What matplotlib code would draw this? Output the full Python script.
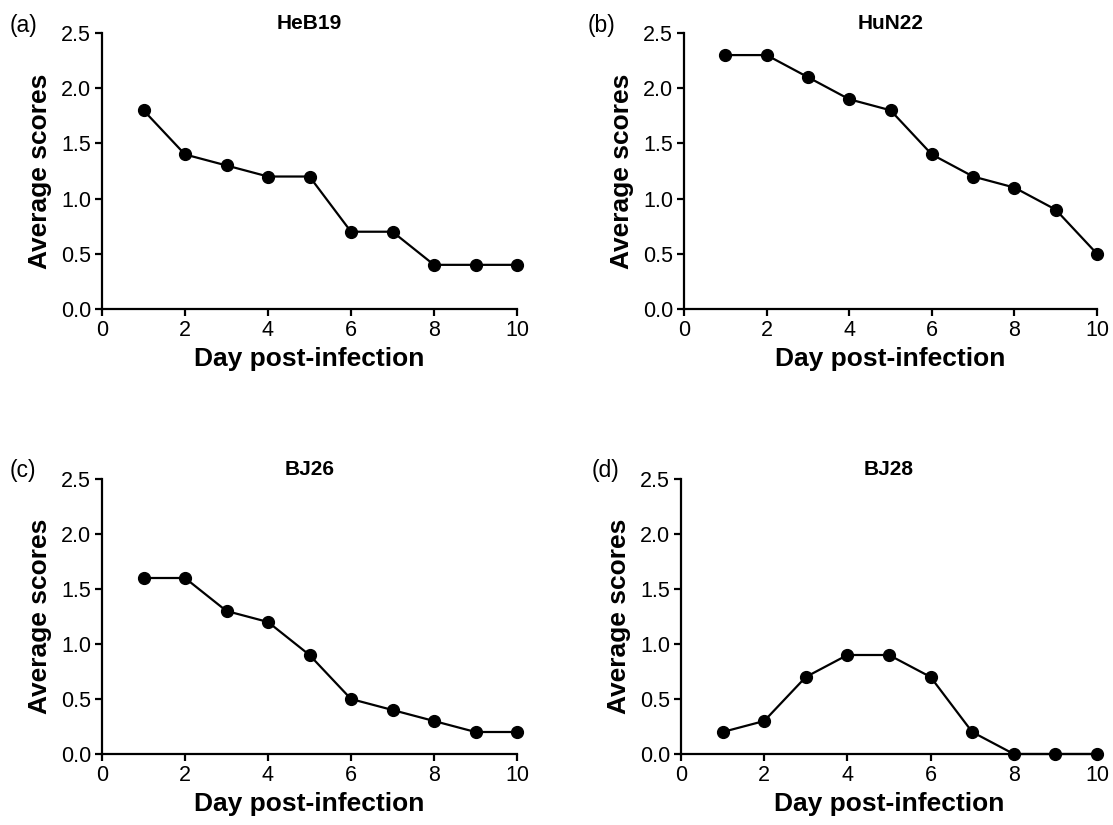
import matplotlib
matplotlib.use("Agg")
import matplotlib.pyplot as plt

plt.rcParams['font.family'] = ['Liberation Sans', 'DejaVu Sans']

days = [1, 2, 3, 4, 5, 6, 7, 8, 9, 10]
heb19 = [1.8, 1.4, 1.3, 1.2, 1.2, 0.7, 0.7, 0.4, 0.4, 0.4]
hun22 = [2.3, 2.3, 2.1, 1.9, 1.8, 1.4, 1.2, 1.1, 0.9, 0.5]
bj26 = [1.6, 1.6, 1.3, 1.2, 0.9, 0.5, 0.4, 0.3, 0.2, 0.2]
bj28 = [0.2, 0.3, 0.7, 0.9, 0.9, 0.7, 0.2, 0.0, 0.0, 0.0]

titles = ["HeB19", "HuN22", "BJ26", "BJ28"]
panel_labels = ["(a)", "(b)", "(c)", "(d)"]
series = [heb19, hun22, bj26, bj28]
xticks = [0, 2, 4, 6, 8, 10]
yticks = [0.0, 0.5, 1.0, 1.5, 2.0, 2.5]

W, H = 1113, 825
fig = plt.figure(figsize=(W / 100, H / 100), dpi=100)

# axes boxes in pixels: left, top, right, bottom
boxes = [
    (102, 33, 517, 309),
    (684, 33, 1097, 309),
    (102, 479, 517, 754),
    (681, 479, 1097, 754),
]
label_pos = [(10, 32), (588, 32), (10, 477), (592, 477)]

for i in range(4):
    l, t, r, b = boxes[i]
    ax = fig.add_axes([l / W, 1 - b / H, (r - l) / W, (b - t) / H])
    ax.plot(days, series[i], color='black', lw=1.6, marker='o', ms=8.5,
            clip_on=False, zorder=3)
    ax.set_xlim(0, 10)
    ax.set_ylim(0, 2.5)
    ax.set_xticks(xticks)
    ax.set_yticks(yticks)
    ax.set_yticklabels([f"{v:.1f}" for v in yticks])
    for s in ['top', 'right']:
        ax.spines[s].set_visible(False)
    for s in ['left', 'bottom']:
        ax.spines[s].set_linewidth(1.6)
    ax.tick_params(direction='out', length=5, width=1.6, labelsize=15.5,
                   pad=3, colors='black')
    ax.set_xlabel("Day post-infection", fontsize=19, fontweight='bold', labelpad=4)
    ax.set_ylabel("Average scores", fontsize=19, fontweight='bold', labelpad=6)
    ax.set_title(titles[i], fontsize=15, fontweight='bold', pad=2)
    lx, ly = label_pos[i]
    fig.text(lx / W, 1 - ly / H, panel_labels[i], fontsize=16.5, ha='left', va='baseline')

fig.savefig("out.png", dpi=100)
